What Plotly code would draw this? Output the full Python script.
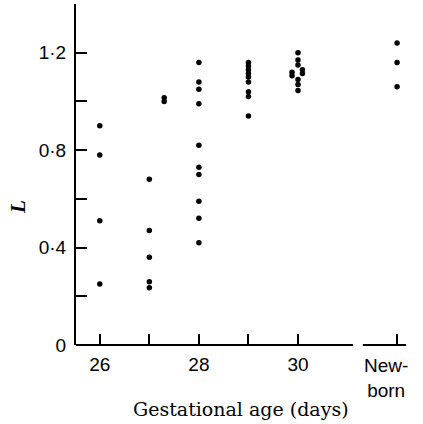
import plotly.graph_objects as go

# ---- data ----
age_26 = [26] * 4
L_26 = [0.90, 0.78, 0.51, 0.25]

age_27 = [27] * 5 + [27.3, 27.3]
L_27 = [0.68, 0.47, 0.36, 0.26, 0.235, 1.015, 1.0]

age_28 = [28] * 10
L_28 = [1.16, 1.08, 1.05, 0.99, 0.82, 0.73, 0.70, 0.59, 0.52, 0.42]

age_29 = [29] * 9
L_29 = [1.16, 1.145, 1.13, 1.115, 1.10, 1.08, 1.04, 1.02, 0.94]

age_30 = [30, 30, 30, 30, 30, 30, 29.88, 29.88, 30.09, 30.09]
L_30 = [1.20, 1.17, 1.15, 1.09, 1.07, 1.045, 1.12, 1.105, 1.13, 1.115]

age_newborn = [32, 32, 32]
L_newborn = [1.24, 1.16, 1.06]

x_tickvals = [26, 27, 28, 29, 30, 32]
x_ticktext = ["26", "", "28", "", "30", ""]
y_tickvals = [0, 0.2, 0.4, 0.6, 0.8, 1.0, 1.2, 1.4]
y_ticktext = ["0", "", "0·4", "", "0·8", "", "1·2", ""]

x_range = [25.52, 32.18]
x_break = [31.11, 31.31]
y_range = [0, 1.4]

xs = age_26 + age_27 + age_28 + age_29 + age_30 + age_newborn
ys = L_26 + L_27 + L_28 + L_29 + L_30 + L_newborn

fig = go.Figure()
fig.add_trace(go.Scatter(
    x=xs, y=ys, mode="markers",
    marker=dict(color="black", size=5.5),
    showlegend=False, hoverinfo="skip",
))

sans = "Liberation Sans"
serif = "DejaVu Serif"

fig.update_layout(
    width=423, height=424,
    margin=dict(l=76, r=17, t=4, b=79),
    paper_bgcolor="white", plot_bgcolor="white",
    xaxis=dict(
        range=x_range, showgrid=False, zeroline=False, showline=False,
        tickmode="array", tickvals=x_tickvals, ticktext=x_ticktext,
        ticks="inside", ticklen=11, tickwidth=1.6, tickcolor="black",
        ticklabelstandoff=6,
        tickfont=dict(family=sans, size=19, color="black"),
    ),
    yaxis=dict(
        range=y_range, showgrid=False, zeroline=False,
        showline=True, linecolor="black", linewidth=2,
        tickmode="array", tickvals=y_tickvals, ticktext=y_ticktext,
        ticks="inside", ticklen=11, tickwidth=1.6, tickcolor="black",
        ticklabelstandoff=4,
        tickfont=dict(family=sans, size=19, color="black"),
    ),
)

# broken x-axis line
for x0, x1 in [(x_range[0], x_break[0]), (x_break[1], x_range[1])]:
    fig.add_shape(type="line", xref="x", yref="paper", x0=x0, x1=x1, y0=0, y1=0,
                  line=dict(color="black", width=2))

fig.add_annotation(x=32, y=0, xref="x", yref="paper", yanchor="top",
                   text="New-<br>born", showarrow=False, xshift=-11, yshift=-8,
                   align="center",
                   font=dict(family=sans, size=19, color="black"))

# axis titles
fig.add_annotation(x=0.5, y=0, xref="paper", yref="paper", yanchor="middle",
                   text="Gestational age (days)", showarrow=False, yshift=-64,
                   font=dict(family=serif, size=19, color="black"))
fig.add_annotation(x=0, y=0.405, xref="paper", yref="paper", xanchor="center",
                   text="<i><b>L</b></i>", showarrow=False, textangle=-90,
                   xshift=-58,
                   font=dict(family="Liberation Serif", size=21, color="black"))

fig.write_html("out.html")
